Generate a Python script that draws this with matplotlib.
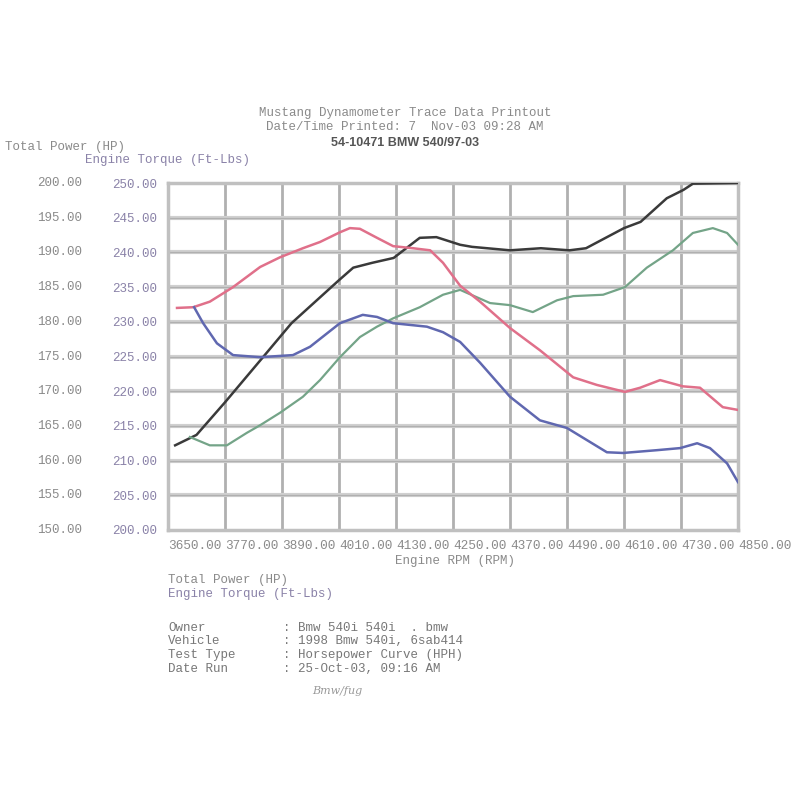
import matplotlib
matplotlib.use('Agg')
import matplotlib.pyplot as plt
import numpy as np

# run 1: black power / red torque, run 2: green power / blue torque
rpm_k=[3665,3710,3770,3845,3910,4010,4040,4080,4125,4180,4215,4265,4290,4370,4435,4495,4530,4610,4645,4700,4735,4755,4850]
hp_k=[162.2,163.7,168.4,174.5,179.8,186.0,187.8,188.5,189.2,192.1,192.2,191.1,190.8,190.3,190.6,190.3,190.6,193.5,194.4,197.8,199.0,199.9,200.0]

rpm_r=[3669,3703,3738,3787,3844,3886,3934,3970,4012,4033,4054,4090,4124,4166,4202,4229,4265,4307,4370,4433,4503,4553,4612,4644,4686,4734,4770,4818,4850]
tq_r=[232.0,232.1,232.9,235.0,237.9,239.3,240.6,241.5,242.9,243.5,243.4,242.1,240.9,240.6,240.3,238.5,235.2,232.9,229.1,225.9,222.0,220.9,219.9,220.5,221.6,220.7,220.5,217.7,217.3]

rpm_b=[3705,3724,3753,3787,3844,3913,3949,4012,4060,4090,4124,4195,4229,4265,4307,4370,4433,4490,4574,4608,4679,4728,4764,4791,4827,4850]
tq_b=[232.1,229.8,226.9,225.2,224.9,225.2,226.4,229.8,231.0,230.7,229.8,229.3,228.5,227.1,224.1,219.2,215.8,214.7,211.2,211.1,211.5,211.8,212.5,211.8,209.6,206.9]

rpm_g=[3696,3738,3774,3816,3844,3886,3934,3970,4012,4054,4090,4124,4180,4229,4265,4328,4370,4418,4469,4503,4566,4612,4658,4713,4755,4797,4827,4850]
hp_g=[163.4,162.2,162.2,164.0,165.1,166.9,169.2,171.6,174.9,177.8,179.3,180.5,182.1,183.9,184.6,182.7,182.4,181.4,183.1,183.7,183.9,185.0,187.8,190.3,192.8,193.5,192.8,191.1]

xticks=[3650,3770,3890,4010,4130,4250,4370,4490,4610,4730,4850]
hp_ticks=[150,155,160,165,170,175,180,185,190,195,200]
tq_ticks=[200,205,210,215,220,225,230,235,240,245,250]

mono='Liberation Mono'
grey='#8a8a8a'
purple='#8a82a8'

fig=plt.figure(figsize=(8,8),dpi=100)
ax=fig.add_axes([168/800,1-530/800,570/800,347/800])
ax.set_xlim(3650,4850)
ax.set_ylim(150,200)
ax.set_xticks(xticks)
ax.set_yticks(hp_ticks)
for v in xticks[1:-1]:
    ax.axvline(v,color='#b0b0b0',lw=2.0,zorder=1)
for v in hp_ticks[1:-1]:
    ax.axhline(v,color='#d0d0d0',lw=3.0,zorder=1)
    ax.axhline(v,color='#b0b0b0',lw=0.9,zorder=1)
for s in ax.spines.values():
    s.set_color('#c0c0c0'); s.set_linewidth(2.5)
ax.tick_params(length=0)
ax.set_xticklabels(['%.2f'%v for v in xticks],fontname=mono,fontsize=9.2,color=grey,ha='left')
ax.tick_params(axis='x',pad=7)
ax.set_yticklabels(['%.2f'%v for v in tq_ticks],fontname=mono,fontsize=9,color=purple)
ax.tick_params(axis='y',pad=8)
for v in hp_ticks:
    ax.text(-0.15,v,'%.2f'%v,transform=ax.get_yaxis_transform(),ha='right',va='center',
            fontname=mono,fontsize=9,color=grey)

ax.plot(rpm_k,hp_k,color='#3a3a3a',lw=1.8,zorder=3)
ax.plot(rpm_g,hp_g,color='#74a488',lw=1.6,zorder=3)
ax.plot(rpm_r,np.array(tq_r)-50,color='#e0708a',lw=1.8,zorder=3)
ax.plot(rpm_b,np.array(tq_b)-50,color='#6068b0',lw=1.8,zorder=3)

def ft(x,y,s,**kw):
    kw.setdefault('fontname',mono); kw.setdefault('fontsize',9); kw.setdefault('color',grey)
    fig.text(x/800,1-y/800,s,va='center',**kw)

ft(405,113,'Mustang Dynamometer Trace Data Printout',ha='center')
ft(405,127,'Date/Time Printed: 7  Nov-03 09:28 AM',ha='center')
ft(405,143,'54-10471 BMW 540/97-03',ha='center',fontname='Liberation Sans',fontweight='bold',color='#555555')
ft(5,147,'Total Power (HP)')
ft(85,160,'Engine Torque (Ft-Lbs)',color=purple)
ft(455,561,'Engine RPM (RPM)',ha='center')
ft(168,580,'Total Power (HP)')
ft(168,594,'Engine Torque (Ft-Lbs)',color=purple)
rows=['Owner','Vehicle','Test Type','Date Run']
vals=[': Bmw 540i 540i  . bmw',': 1998 Bmw 540i, 6sab414',': Horsepower Curve (HPH)',': 25-Oct-03, 09:16 AM']
for i in range(4):
    ft(168,628+13.5*i,rows[i],color='#777777')
    ft(283,628+13.5*i,vals[i],color='#777777')
ft(312,691,'Bmw/fug',fontname='DejaVu Serif',style='italic',fontsize=8,color='#999999')

plt.savefig('out.png',dpi=100)
